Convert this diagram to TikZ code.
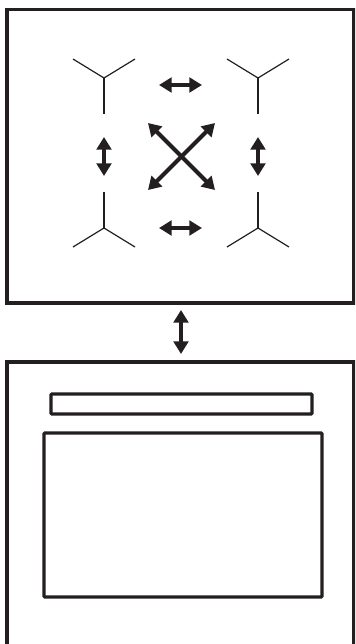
\documentclass[tikz,border=0pt]{standalone}
\usepackage{tikz}
\usepackage{xcolor}
\usetikzlibrary{arrows.meta, calc}
\definecolor{cInk}{HTML}{231F20}

\begin{document}
\begin{tikzpicture}[x=0.75pt, y=-0.75pt,
    frame/.style={draw=cInk, line width=2.6pt},
    panel/.style={draw=cInk, line width=2.4pt, rounded corners=0.6pt},
    wire/.style={draw=cInk, line width=0.9pt},
    twoway/.style={draw=cInk, line width=3pt,
      {Triangle[length=9.5pt, width=11pt]}-{Triangle[length=9.5pt, width=11pt]}}]
  \useasboundingbox (0,0) rectangle (355,644);
  \clip (0,0) rectangle (355,644);

  % upper panel with the four junctions
  \draw[frame] (7,9.5) rectangle (354,303);
  \foreach \name/\cx/\cy/\s in {jTL/104/78/1, jTR/258/78/1, jBL/104/228/-1, jBR/258/228/-1}{
    \coordinate (\name) at (\cx,\cy);
    \draw[wire] ($(\name)+(-31,{-19*\s})$) -- (\name) -- ($(\name)+(31,{-19*\s})$);
    \draw[wire] (\name) -- ($(\name)+(0,{36*\s})$);
  }
  \draw[twoway] ($(jTL)+(55,7)$) -- ($(jTR)+(-56,7)$);
  \draw[twoway] ($(jBL)+(55,0)$) -- ($(jBR)+(-56,0)$);
  \draw[twoway] ($(jTL)+(0,59)$) -- ($(jBL)+(0,-52)$);
  \draw[twoway] ($(jTR)+(0,59)$) -- ($(jBR)+(0,-52)$);
  \coordinate (xMid) at (181.5,156.5);
  \draw[twoway] ($(xMid)+(-33.5,-33.5)$) -- ($(xMid)+(33.5,33.5)$);
  \draw[twoway] ($(xMid)+(33.5,-33.5)$) -- ($(xMid)+(-33.5,33.5)$);

  % lower panel
  \draw[frame] (7,362) rectangle (354,650);
  \draw[panel] (51,394) rectangle (312,414);
  \draw[panel] (44,433) rectangle (322,597);

  % link between the panels
  \coordinate (linkTop) at (181,310);
  \coordinate (linkBot) at (181,354);
  \draw[twoway] (linkTop) -- (linkBot);
\end{tikzpicture}
\end{document}
